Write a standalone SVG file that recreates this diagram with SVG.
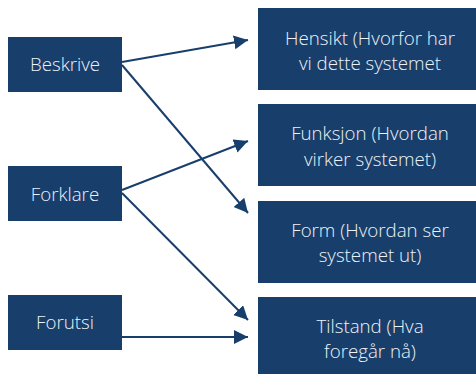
<svg xmlns="http://www.w3.org/2000/svg" width="476" height="375" viewBox="0 0 476 375">
<style>
.box{fill:#183F6C}
.t{font-family:"Open Sans","Liberation Sans",sans-serif;font-weight:300;font-size:18.7px;fill:#EEF2F7;text-anchor:middle}
.c{stroke:#183F6C;stroke-width:2;fill:none;marker-end:url(#ah)}
</style>
<defs>
<marker id="ah" markerUnits="userSpaceOnUse" markerWidth="16" markerHeight="16" refX="14" refY="7" orient="auto">
<path d="M0,0 L14,7 L0,14 Z" fill="#183F6C"/>
</marker>
</defs>
<rect width="476" height="375" fill="#fff"/>
<g id="beskrive"><rect class="box" x="8" y="37" width="114" height="55"/><text class="t" x="65" y="71">Beskrive</text></g>
<g id="forklare"><rect class="box" x="8" y="166" width="114" height="55"/><text class="t" x="65" y="201">Forklare</text></g>
<g id="forutsi"><rect class="box" x="8" y="295" width="114" height="55"/><text class="t" x="65" y="329">Forutsi</text></g>
<g id="hensikt"><rect class="box" x="258" y="8" width="218" height="82"/><text class="t" x="370" y="45">Hensikt (Hvorfor har</text><text class="t" x="370" y="70">vi dette systemet</text></g>
<g id="funksjon"><rect class="box" x="258" y="104" width="218" height="82"/><text class="t" x="370" y="140">Funksjon (Hvordan</text><text class="t" x="370" y="166">virker systemet)</text></g>
<g id="form"><rect class="box" x="258" y="201" width="218" height="82"/><text class="t" x="370" y="237">Form (Hvordan ser</text><text class="t" x="370" y="262">systemet ut)</text></g>
<g id="tilstand"><rect class="box" x="258" y="297" width="218" height="77"/><text class="t" x="370" y="333">Tilstand (Hva</text><text class="t" x="370" y="358">foregår nå)</text></g>
<g id="connectors">
<line class="c" x1="122" y1="62" x2="248" y2="40"/>
<line class="c" x1="122" y1="65" x2="248" y2="213"/>
<line class="c" x1="122" y1="190" x2="248" y2="141"/>
<line class="c" x1="122" y1="193" x2="248" y2="320"/>
<line class="c" x1="122" y1="337" x2="248" y2="337"/>
</g>
</svg>
